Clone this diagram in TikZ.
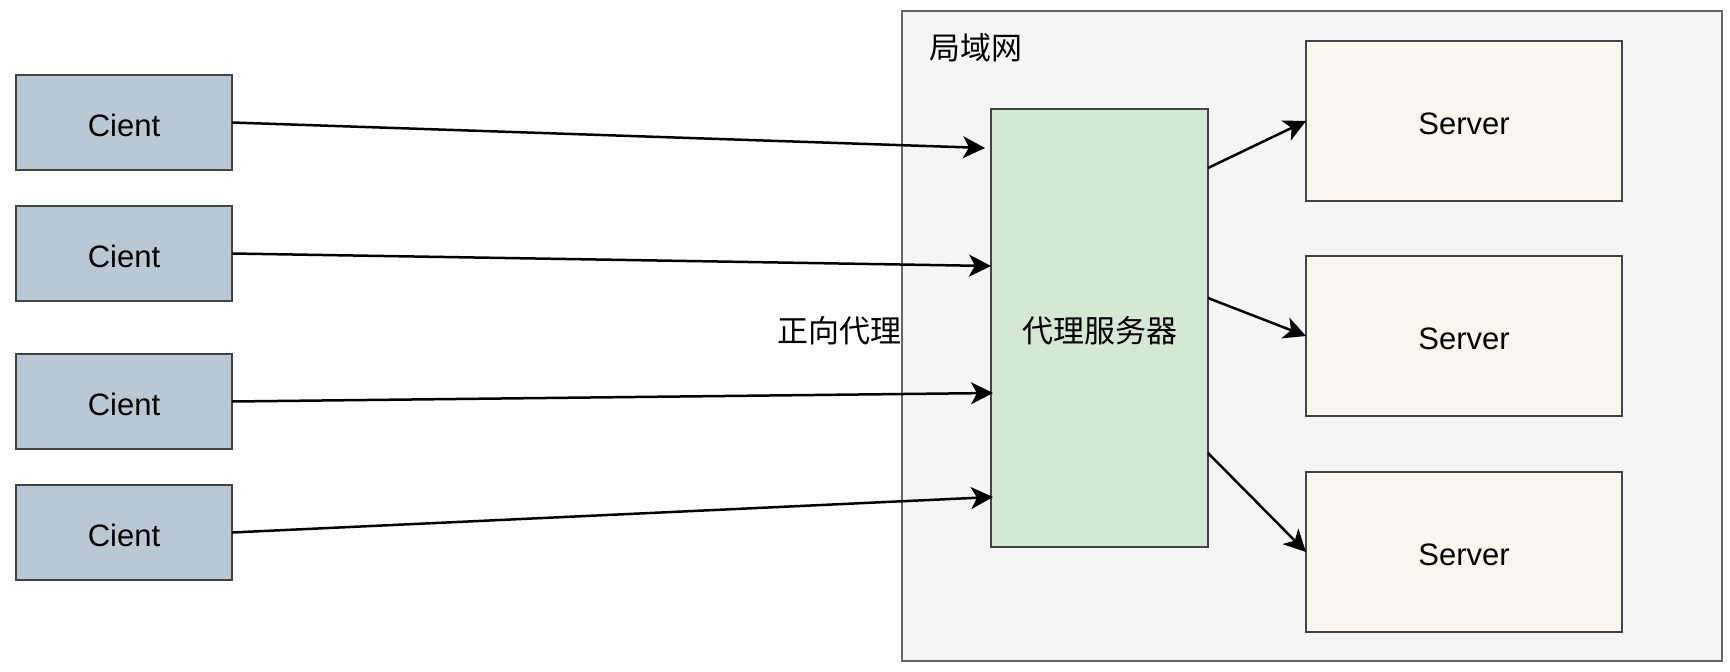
\documentclass[tikz,border=0pt]{standalone}
\usepackage{fontspec}
\setmainfont{Liberation Sans}
\newfontfamily\cjk{Noto Sans CJK SC}
\usetikzlibrary{arrows.meta}
\definecolor{clientfill}{HTML}{BAC8D3}
\definecolor{proxyfill}{HTML}{D5E8D4}
\definecolor{serverfill}{HTML}{F9F7ED}
\definecolor{lanfill}{HTML}{F5F5F5}
\definecolor{lanline}{HTML}{666666}
\definecolor{boxline}{HTML}{434343}
\begin{document}
\begin{tikzpicture}[x=1pt,y=-1pt,
  box/.style={draw=boxline,line width=2.5pt,inner sep=0pt,outer sep=0pt,anchor=north west,font=\fontsize{31}{36}\selectfont,text height=28pt,text depth=0pt},
  clientbox/.style={box,fill=clientfill,minimum width=216pt,minimum height=95pt},
  serverbox/.style={box,fill=serverfill,minimum width=316pt,minimum height=160pt,text height=26pt},
  proxybox/.style={box,fill=proxyfill,minimum width=217pt,minimum height=438pt},
  conn/.style={line width=2.5pt,-{Stealth[length=22pt,width=22pt,inset=6pt]}},
  lbl/.style={inner sep=0pt,font=\fontsize{31}{36}\selectfont\cjk}]
\useasboundingbox (0,0) rectangle (1730,672);
\fill[white] (0,0) rectangle (1730,672);
% LAN
\node[draw=lanline,fill=lanfill,line width=2.5pt,inner sep=0pt,outer sep=0pt,anchor=north west,minimum width=820pt,minimum height=650pt] (lan) at (902,11) {};
\node[lbl] (lanlbl) at (976,48) {局域网};
% clients
\node[clientbox] (c1) at (16,75) {Cient};
\node[clientbox] (c2) at (16,206) {Cient};
\node[clientbox] (c3) at (16,354) {Cient};
\node[clientbox] (c4) at (16,485) {Cient};
% proxy
\node[proxybox] (proxy) at (991,109) {};
\node[lbl,yshift=-3pt] (proxylbl) at (proxy.center) {代理服务器};
% servers
\node[serverbox] (s1) at (1306,41) {Server};
\node[serverbox] (s2) at (1306,256) {Server};
\node[serverbox] (s3) at (1306,472) {Server};
% label
\node[lbl,anchor=east] (fwd) at (902,331) {正向代理};
% connector endpoints
\coordinate (p1) at (985,148);
\coordinate (p2) at (991,266);
\coordinate (p3) at (993,393);
\coordinate (p4) at (993,497);
\coordinate (q1) at (1208,168);
\coordinate (q2) at (1208,298);
\coordinate (q3) at (1208,453);
\draw[conn] (c1.east) -- (p1);
\draw[conn] (c2.east) -- (p2);
\draw[conn] (c3.east) -- (p3);
\draw[conn] (c4.east) -- (p4);
\draw[conn] (q1) -- (s1.west);
\draw[conn] (q2) -- (s2.west);
\draw[conn] (q3) -- (s3.west);
\end{tikzpicture}
\end{document}
